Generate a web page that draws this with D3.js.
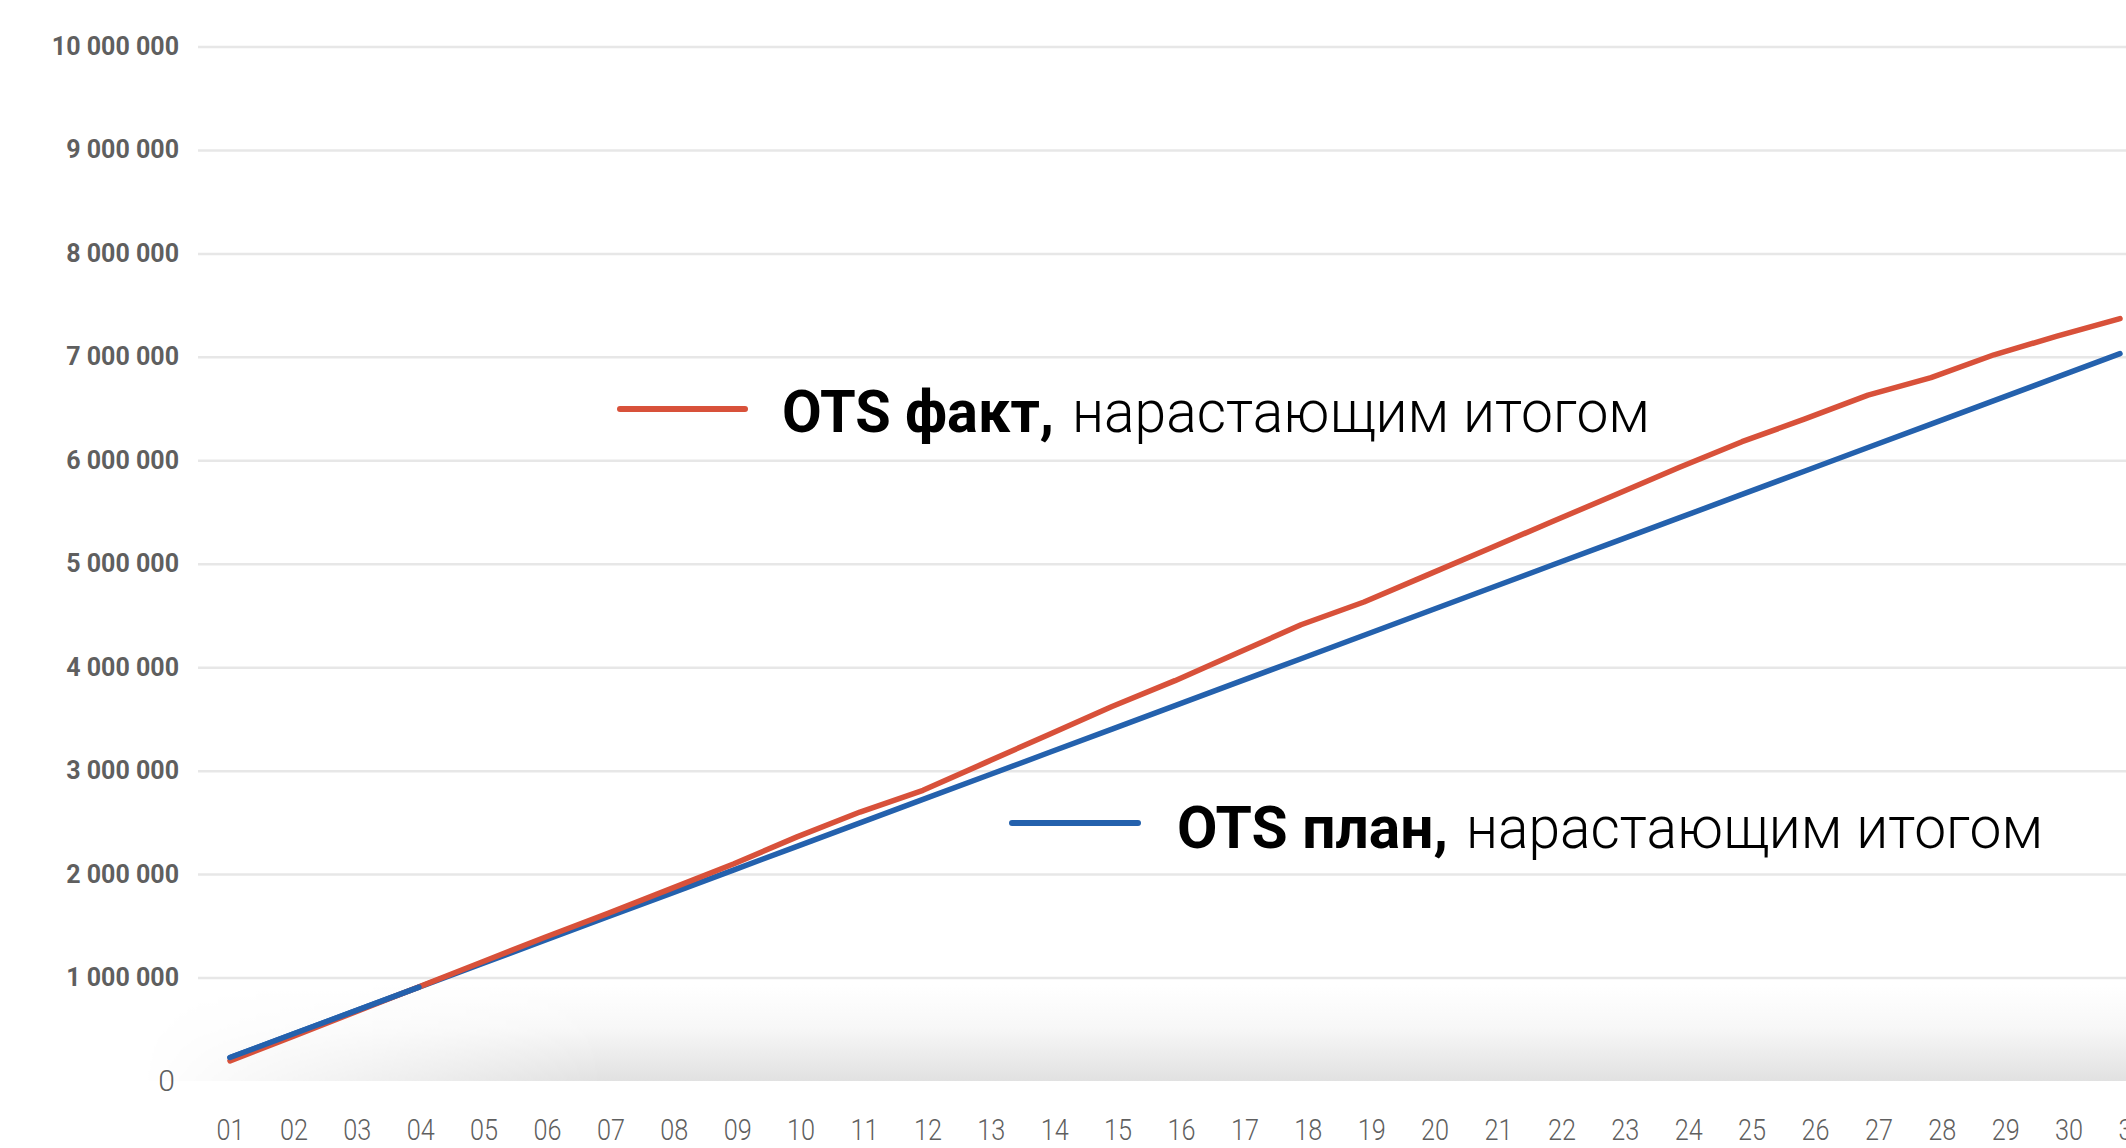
<!DOCTYPE html>
<html>
<head>
<meta charset="utf-8">
<script src="https://cdn.jsdelivr.net/npm/d3@7"></script>
<style>
  html, body { margin: 0; padding: 0; background: #ffffff; overflow: hidden; }
  svg { display: block; }
</style>
</head>
<body>
<svg id="chart" width="2126" height="1148"></svg>
<script>
// ---- data ----
const days = ["01","02","03","04","05","06","07","08","09","10","11","12","13","14","15","16",
              "17","18","19","20","21","22","23","24","25","26","27","28","29","30","31"];
const factValues = [195000, 430000, 670000, 910000, 1150000, 1390000, 1620000, 1860000, 2100000,
                    2360000, 2600000, 2810000, 3080000, 3350000, 3620000, 3870000, 4140000, 4410000,
                    4630000, 4890000, 5150000, 5410000, 5670000, 5930000, 6180000, 6400000, 6630000,
                    6800000, 7020000, 7200000, 7370000];
const planValues = [227000, 454000, 680000, 907000, 1134000, 1361000, 1588000, 1814000, 2041000,
                    2268000, 2495000, 2722000, 2948000, 3175000, 3402000, 3629000, 3856000, 4082000,
                    4309000, 4536000, 4763000, 4990000, 5216000, 5443000, 5670000, 5897000, 6124000,
                    6350000, 6577000, 6804000, 7031000];
const yTickValues = [1000000, 2000000, 3000000, 4000000, 5000000, 6000000, 7000000, 8000000, 9000000, 10000000];
const yTickLabels = ["1 000 000","2 000 000","3 000 000","4 000 000","5 000 000",
                     "6 000 000","7 000 000","8 000 000","9 000 000","10 000 000"];
const zeroLabel = "0";
const legendBold = ["OTS факт,", "OTS план,"];
const legendRest = ["нарастающим итогом", "нарастающим итогом"];

// ---- layout ----
const W = 2126, H = 1148;
const svg = d3.select("#chart");
const y = d3.scaleLinear().domain([0, 10000000]).range([1081, 46.5]);
const xLine = d3.scalePoint().domain(days).range([230, 2120]);
const xLabel = d3.scalePoint().domain(days).range([230, 2132]);

const defs = svg.append("defs");
const vg = defs.append("linearGradient").attr("id", "bandV").attr("x1", 0).attr("y1", 0).attr("x2", 0).attr("y2", 1);
vg.append("stop").attr("offset", "0").attr("stop-color", "#ffffff");
vg.append("stop").attr("offset", "0.45").attr("stop-color", "#f7f7f7");
vg.append("stop").attr("offset", "1").attr("stop-color", "#e1e1e1");
const hg = defs.append("linearGradient").attr("id", "bandH").attr("x1", 0).attr("y1", 0).attr("x2", 1).attr("y2", 0);
hg.append("stop").attr("offset", "0").attr("stop-color", "#fff").attr("stop-opacity", 0);
hg.append("stop").attr("offset", "0.25").attr("stop-color", "#fff").attr("stop-opacity", 1);
hg.append("stop").attr("offset", "1").attr("stop-color", "#fff").attr("stop-opacity", 1);
const mask = defs.append("mask").attr("id", "bandMask");
mask.append("rect").attr("x", 140).attr("y", 985).attr("width", 2000 - 140).attr("height", 100).attr("fill", "url(#bandH)");
mask.append("rect").attr("x", 2000).attr("y", 985).attr("width", 200).attr("height", 100).attr("fill", "#fff");

// shadow band at the bottom
svg.append("rect")
  .attr("x", 140).attr("y", 985).attr("width", W - 140).attr("height", y(0) - 985)
  .attr("fill", "url(#bandV)").attr("mask", "url(#bandMask)");

// gridlines
const yAxis = d3.axisLeft(y).tickValues(yTickValues).tickSize(-(W - 198)).tickFormat("");
const gGrid = svg.append("g").attr("transform", "translate(198,0)").call(yAxis);
gGrid.select(".domain").remove();
gGrid.selectAll(".tick line").attr("stroke", "#e7e7e7").attr("stroke-width", 2.5);

// y labels
svg.append("g").selectAll("text").data(yTickValues).join("text")
  .attr("x", 179).attr("y", d => y(d))
  .attr("text-anchor", "end").attr("dominant-baseline", "central")
  .attr("font-family", "Roboto, 'DejaVu Sans', sans-serif")
  .attr("font-weight", 700).attr("font-size", 25).attr("fill", "#5f5f5f")
  .text((d, i) => yTickLabels[i]);
svg.append("text")
  .attr("x", 175).attr("y", y(0) - 1)
  .attr("text-anchor", "end").attr("dominant-baseline", "central")
  .attr("font-family", "Roboto, 'DejaVu Sans', sans-serif")
  .attr("font-weight", 300).attr("font-size", 30).attr("fill", "#5f5f5f")
  .text(zeroLabel);

// x labels
const xAxis = d3.axisBottom(xLabel).tickSize(0).tickPadding(0);
const gx = svg.append("g").attr("transform", "translate(0,1140)").call(xAxis);
gx.select(".domain").remove();
gx.selectAll(".tick text")
  .attr("y", 0).attr("dy", null)
  .attr("font-family", "Roboto, 'DejaVu Sans', sans-serif")
  .attr("font-weight", 300).attr("font-size", 30).attr("fill", "#5f5f5f")
  .attr("textLength", 28).attr("lengthAdjust", "spacingAndGlyphs");

// lines
const line = d3.line().x((d, i) => xLine(days[i])).y(d => y(d));
svg.append("path").datum(planValues).attr("d", line)
  .attr("fill", "none").attr("stroke", "#2461ad").attr("stroke-width", 5.5)
  .attr("stroke-linecap", "round").attr("stroke-linejoin", "round");
svg.append("path").datum(factValues).attr("d", line)
  .attr("fill", "none").attr("stroke", "#d8513a").attr("stroke-width", 5.5)
  .attr("stroke-linecap", "round").attr("stroke-linejoin", "round");
// plan drawn on top at start (blue overlays red at beginning)
svg.append("path").datum(planValues.slice(0, 4)).attr("d", line)
  .attr("fill", "none").attr("stroke", "#2461ad").attr("stroke-width", 5.5)
  .attr("stroke-linecap", "round").attr("stroke-linejoin", "round");

// legends
const legendCfg = [
  { color: "#d8513a", lx1: 620, lx2: 745, ly: 409, tx: 782, bw: 272, rx: 1072, rw: 578, base: 432 },
  { color: "#2461ad", lx1: 1012, lx2: 1138, ly: 823, tx: 1177, bw: 271, rx: 1466, rw: 577, base: 848 }
];
legendCfg.forEach((c, i) => {
  svg.append("line").attr("x1", c.lx1).attr("x2", c.lx2).attr("y1", c.ly).attr("y2", c.ly)
    .attr("stroke", c.color).attr("stroke-width", 6).attr("stroke-linecap", "round");
  svg.append("text").attr("x", c.tx).attr("y", c.base)
    .attr("font-family", "Roboto, 'DejaVu Sans', sans-serif").attr("font-weight", 700)
    .attr("font-size", 60).attr("fill", "#000")
    .attr("textLength", c.bw).attr("lengthAdjust", "spacingAndGlyphs")
    .text(legendBold[i]);
  svg.append("text").attr("x", c.rx).attr("y", c.base)
    .attr("font-family", "Roboto, 'DejaVu Sans', sans-serif").attr("font-weight", 300)
    .attr("font-size", 60).attr("fill", "#000")
    .attr("textLength", c.rw).attr("lengthAdjust", "spacingAndGlyphs")
    .text(legendRest[i]);
});
</script>
</body>
</html>
